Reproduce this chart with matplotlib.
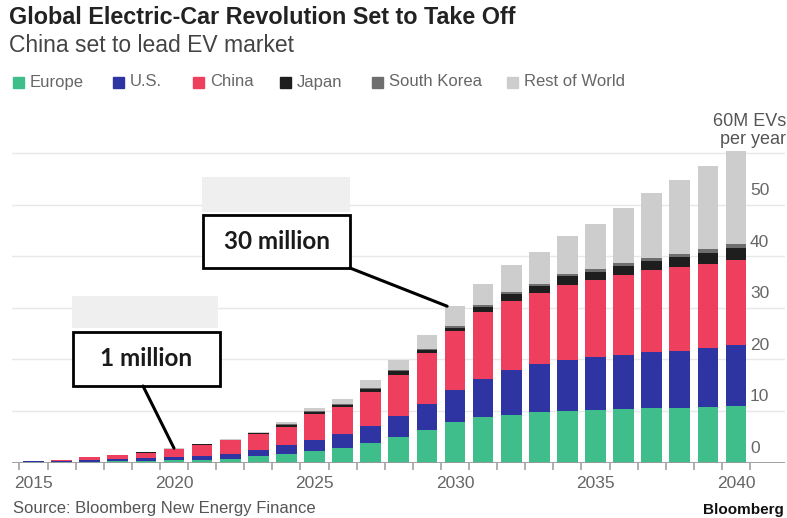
import numpy as np
from matplotlib import pyplot as plt
from matplotlib.patches import Rectangle, ConnectionPatch

# EV sales per year (millions), stacked by region
years = list(range(2015, 2041))
europe = [0.05, 0.1, 0.15, 0.2, 0.3, 0.4, 0.5, 0.6, 1.2, 1.6, 2.2, 2.9, 3.8, 5.0, 6.3,
          7.8, 8.8, 9.3, 9.7, 10.0, 10.2, 10.4, 10.5, 10.6, 10.8, 11.0]
us = [0.15, 0.2, 0.3, 0.4, 0.5, 0.7, 0.8, 1.0, 1.2, 1.8, 2.1, 2.7, 3.3, 4.0, 5.0,
      6.2, 7.4, 8.6, 9.3, 9.9, 10.3, 10.5, 10.9, 11.1, 11.4, 11.7]
china = [0.1, 0.2, 0.55, 0.8, 1.1, 1.5, 2.1, 2.7, 3.2, 3.5, 5.1, 5.1, 6.5, 8.0, 9.9,
         11.4, 12.9, 13.4, 13.9, 14.6, 14.8, 15.5, 15.9, 16.2, 16.2, 16.5]
japan = [0.02, 0.03, 0.05, 0.05, 0.07, 0.08, 0.1, 0.1, 0.15, 0.4, 0.45, 0.45, 0.6, 0.7, 0.7,
         0.75, 1.1, 1.3, 1.35, 1.6, 1.65, 1.65, 1.8, 1.95, 2.3, 2.35]
korea = [0.01, 0.01, 0.02, 0.02, 0.03, 0.03, 0.04, 0.05, 0.05, 0.1, 0.15, 0.15, 0.2, 0.2, 0.2,
         0.25, 0.4, 0.4, 0.45, 0.5, 0.55, 0.55, 0.6, 0.65, 0.7, 0.75]
rest = [0.0, 0.0, 0.02, 0.03, 0.05, 0.07, 0.1, 0.15, 0.1, 0.4, 0.5, 1.1, 1.5, 2.0, 2.6,
        3.9, 4.1, 5.2, 6.1, 7.4, 8.8, 10.8, 12.6, 14.3, 16.1, 18.1]

series_names = ["Europe", "U.S.", "China", "Japan", "South Korea", "Rest of World"]
series_values = [europe, us, china, japan, korea, rest]
colors = ["#3fbe8b", "#2e35a3", "#ee3f5e", "#1e1e1e", "#6e6e6e", "#cdcdcd"]

y_ticks = [0, 10, 20, 30, 40, 50, 60]
year_labels = [2015, 2020, 2025, 2030, 2035, 2040]
callout_years = [2020, 2030]
callout_texts = ["1 million", "30 million"]

W, H = 787, 518
FONT = "Liberation Sans"


def px(x, y):
    # pixel position (from top-left) -> figure fraction
    return x / W, 1 - y / H


fig = plt.figure(figsize=(W / 100, H / 100), dpi=100)
fig.patch.set_facecolor("white")

# axes placed so that 2015 sits at x=33.5px and 0..60 spans y=462.5..153px
ax_left, ax_right, ax_top, ax_bottom = 12, 785, 150, 462.5
px_per_year = 28.1
px_per_unit = 5.158
ax = fig.add_axes([ax_left / W, 1 - ax_bottom / H,
                   (ax_right - ax_left) / W, (ax_bottom - ax_top) / H])
ax.set_xlim(2015 - (33.5 - ax_left) / px_per_year,
            2015 + (ax_right - 33.5) / px_per_year)
ax.set_ylim(0, (ax_bottom - ax_top) / px_per_unit)

# gridlines
for v in y_ticks[1:]:
    ax.axhline(v, color="#e8e8e8", lw=1.0, zorder=0)

# stacked bars
bottom = np.zeros(len(years))
for name, vals, col in zip(series_names, series_values, colors):
    ax.bar(years, vals, bottom=bottom, width=0.74, color=col, label=name,
           zorder=2, linewidth=0)
    bottom = bottom + np.array(vals)
totals = bottom

for s in ax.spines.values():
    s.set_visible(False)
ax.axhline(0, color="#9a9a9a", lw=1.3, zorder=3)

# x ticks: year labels, minor tick marks between bars
ax.set_xticks(year_labels)
ax.set_xticklabels([str(y) for y in year_labels], fontfamily=FONT,
                   fontsize=12.5, color="#666666")
ax.set_xticks([y - 0.5 for y in years + [2041]], minor=True)
ax.tick_params(axis="x", which="major", length=0, pad=10)
ax.tick_params(axis="x", which="minor", length=5, width=1.1, color="#9a9a9a")
ax.set_yticks([])

# y labels on right, sitting above gridlines
for v in y_ticks[:-1]:
    ax.text(2040.5, v + 2.7, str(v), ha="left", va="center",
            fontfamily=FONT, fontsize=12.5, color="#666666")

# title and subtitle
fig.text(*px(9, 17), "Global Electric-Car Revolution Set to Take Off",
         fontfamily=FONT, fontweight="bold", fontsize=16.8, color="#222222",
         ha="left", va="center")
fig.text(*px(9, 46), "China set to lead EV market",
         fontfamily=FONT, fontsize=16.5, color="#444444", ha="left", va="center")

# legend
legend_x = [13, 113, 193, 280, 372, 507]
for lx, name, col in zip(legend_x, series_names, colors):
    fx, fy = px(lx, 88)
    fig.add_artist(Rectangle((fx, fy), 11 / W, 11 / H, color=col,
                             transform=fig.transFigure))
    fig.text(*px(lx + 17, 82), name, fontfamily=FONT, fontsize=12,
             color="#666666", ha="left", va="center")

fig.text(*px(786, 121), "60M EVs", fontfamily=FONT, fontsize=13,
         color="#555555", ha="right", va="center")
fig.text(*px(786, 139), "per year", fontfamily=FONT, fontsize=13,
         color="#555555", ha="right", va="center")

# source and logo
fig.text(*px(13, 509), "Source: Bloomberg New Energy Finance", fontfamily=FONT,
         fontsize=12, color="#555555", ha="left", va="center")
fig.text(*px(784, 510), "Bloomberg", fontfamily=FONT, fontweight="bold",
         fontsize=11, color="#111111", ha="right", va="center")

# call-out boxes: (gray patch, box, line start, line end offset in years)
callouts = [
    ((72, 296, 146, 32), (73, 332, 147, 54), (143, 386), 0.0),
    ((202, 177, 148, 35), (203, 215, 147, 53), (350, 268), -0.28),
]
for yr, txt, (gp, bx, start, dx) in zip(callout_years, callout_texts, callouts):
    gx, gy, gw, gh = gp
    fig.add_artist(Rectangle(px(gx, gy + gh), gw / W, gh / H, facecolor="#efefef",
                             edgecolor="none", transform=fig.transFigure, zorder=4))
    bxx, byy, bw, bh = bx
    fig.add_artist(Rectangle(px(bxx, byy + bh), bw / W, bh / H, facecolor="white",
                             edgecolor="black", lw=2.0, transform=fig.transFigure,
                             zorder=5))
    fig.text(*px(bxx + bw / 2, byy + bh / 2), txt, fontfamily="Lato",
             fontweight="bold", fontsize=17.5, color="#1a1a1a", ha="center",
             va="center", zorder=6)
    i = years.index(yr)
    con = ConnectionPatch(xyA=px(*start), coordsA=fig.transFigure,
                          xyB=(yr + dx, totals[i]), coordsB=ax.transData,
                          color="black", lw=2.2, zorder=5)
    fig.add_artist(con)

fig.savefig("out.png", dpi=100)
